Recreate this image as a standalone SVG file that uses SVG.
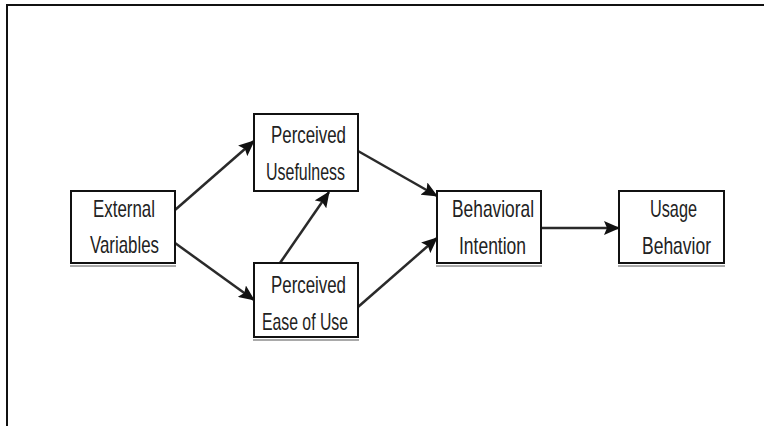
<svg xmlns="http://www.w3.org/2000/svg" width="764" height="426" viewBox="0 0 764 426">
<defs>
<marker id="ah" markerUnits="userSpaceOnUse" markerWidth="16" markerHeight="14" refX="15" refY="7" orient="auto" viewBox="0 0 16 14">
<path d="M0,0 L16,7 L0,14 L3,7 z" fill="#111"/>
</marker>
<style>
.box{fill:#fff;stroke:#111;stroke-width:2}
.sh{stroke:#555;stroke-width:1;fill:none}
.t{font-family:"Liberation Sans",Arial,sans-serif;font-size:24px;fill:#222}
.c{stroke:#2a2a2a;stroke-width:2.5;fill:none;marker-end:url(#ah)}
</style>
</defs>
<rect width="764" height="426" fill="#fff"/>
<path d="M7,426 L7,5 L764,5" fill="none" stroke="#111" stroke-width="2"/>
<g id="connectors">
<line class="c" x1="175" y1="210" x2="254" y2="141"/>
<line class="c" x1="175" y1="243" x2="254" y2="300"/>
<line class="c" x1="280" y1="263" x2="329" y2="192"/>
<line class="c" x1="358" y1="151" x2="437" y2="196"/>
<line class="c" x1="358" y1="307" x2="437" y2="238"/>
<line class="c" x1="541" y1="228" x2="619" y2="228"/>
</g>
<g id="ev">
<rect class="box" x="71" y="191" width="104" height="72"/>
<line class="sh" x1="70" y1="266" x2="176" y2="266"/>
<text class="t" x="93" y="217" textLength="62" lengthAdjust="spacingAndGlyphs">External</text>
<text class="t" x="90" y="253" textLength="69" lengthAdjust="spacingAndGlyphs">Variables</text>
</g>
<g id="pu">
<rect class="box" x="254" y="114" width="104" height="77"/>
<text class="t" x="271" y="143" textLength="75" lengthAdjust="spacingAndGlyphs">Perceived</text>
<text class="t" x="266" y="180" textLength="79" lengthAdjust="spacingAndGlyphs">Usefulness</text>
</g>
<g id="peu">
<rect class="box" x="254" y="263" width="104" height="74"/>
<line class="sh" x1="253" y1="340" x2="359" y2="340"/>
<text class="t" x="271" y="293" textLength="75" lengthAdjust="spacingAndGlyphs">Perceived</text>
<text class="t" x="262" y="330" textLength="86" lengthAdjust="spacingAndGlyphs">Ease of Use</text>
</g>
<g id="bi">
<rect class="box" x="437" y="191" width="104" height="72"/>
<line class="sh" x1="436" y1="266" x2="542" y2="266"/>
<text class="t" x="452" y="217" textLength="82" lengthAdjust="spacingAndGlyphs">Behavioral</text>
<text class="t" x="459" y="254" textLength="67" lengthAdjust="spacingAndGlyphs">Intention</text>
</g>
<g id="ub">
<rect class="box" x="619" y="191" width="105" height="72"/>
<line class="sh" x1="618" y1="266" x2="725" y2="266"/>
<text class="t" x="650" y="217" textLength="47" lengthAdjust="spacingAndGlyphs">Usage</text>
<text class="t" x="642" y="254" textLength="69" lengthAdjust="spacingAndGlyphs">Behavior</text>
</g>
</svg>
